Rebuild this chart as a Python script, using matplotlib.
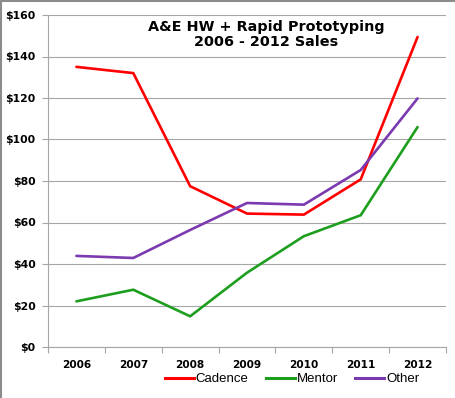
import matplotlib
matplotlib.use("Agg")
import matplotlib.pyplot as plt
from matplotlib.lines import Line2D

years = ["2006", "2007", "2008", "2009", "2010", "2011", "2012"]
cadence = [135, 132, 77.5, 64.3, 63.8, 80.8, 149.4]
mentor = [22, 27.6, 14.8, 35.8, 53.4, 63.5, 106]
other = [43.9, 42.9, 56.4, 69.4, 68.6, 85.3, 119.8]
yticks = [0, 20, 40, 60, 80, 100, 120, 140, 160]
ytick_labels = ["$0", "$20", "$40", "$60", "$80", "$100", "$120", "$140", "$160"]
series_names = ["Cadence", "Mentor", "Other"]
colors = ["#FF0000", "#1E9E1E", "#7B3AB0"]

fig = plt.figure(figsize=(4.55, 3.98), dpi=100)
ax = fig.add_axes([48/455, 1-347/398, (446-48)/455, (347-15)/398])

x = list(range(len(years)))
for vals, c, n in zip([cadence, mentor, other], colors, series_names):
    ax.plot(x, vals, color=c, lw=1.9, label=n, solid_capstyle="round", solid_joinstyle="miter")

ax.set_xlim(-0.5, len(years)-0.5)
ax.set_ylim(0, 160)
ax.set_yticks(yticks)
ax.set_yticklabels(ytick_labels, fontsize=7.8, fontweight="bold", family="DejaVu Sans")
ax.set_xticks(x)
ax.set_xticklabels(years, fontsize=7.6, fontweight="bold", family="DejaVu Sans")
ax.tick_params(axis="x", length=0, pad=9)
ax.set_xticks([i - 0.5 for i in range(len(years)+1)], minor=True)
ax.tick_params(axis="x", which="minor", length=4, color="#A6A6A6", width=0.8)
ax.tick_params(axis="y", length=4, color="#A6A6A6", width=0.8, pad=5)
ax.grid(axis="y", color="#A6A6A6", lw=0.8)
ax.set_axisbelow(True)
for s in ["top", "right"]:
    ax.spines[s].set_visible(False)
for s in ["left", "bottom"]:
    ax.spines[s].set_color("#A6A6A6")
    ax.spines[s].set_linewidth(0.8)

ax.text(0.548, (347-20)/332, "A&E HW + Rapid Prototyping\n2006 - 2012 Sales", transform=ax.transAxes,
        ha="center", va="top", fontsize=10.4, fontweight="bold", family="DejaVu Sans", linespacing=1.05)

handles = [Line2D([0], [0], color=c, lw=2.2) for c in colors]
fig.legend(handles, series_names, loc="center", bbox_to_anchor=(292/455, 1-379/398),
           ncol=3, frameon=False, prop={"family": "Liberation Sans", "size": 9.5},
           handlelength=2.2, handletextpad=0.15, columnspacing=1.3)

fig.add_artist(Line2D([0, 1], [0.998, 0.998], transform=fig.transFigure, color="#8C8C8C", lw=1.5))
fig.add_artist(Line2D([0.002, 0.002], [0, 1], transform=fig.transFigure, color="#8C8C8C", lw=1.5))
fig.savefig("out.png", dpi=100)
